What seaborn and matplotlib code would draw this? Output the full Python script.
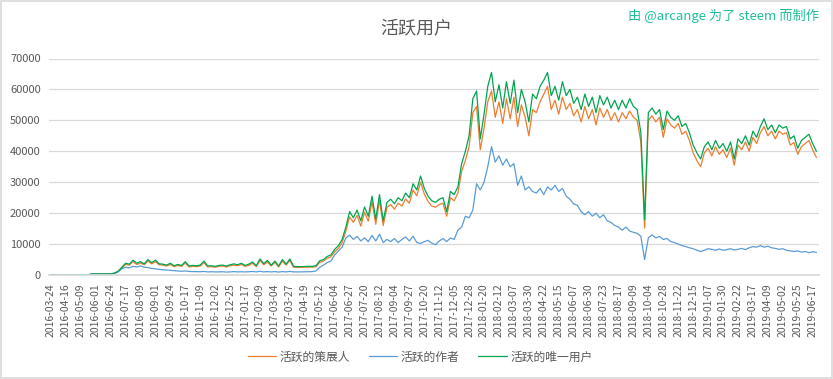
import numpy as np
import pandas as pd
import seaborn as sns
import matplotlib.pyplot as plt
from matplotlib.patches import Rectangle

# x tick labels, one every 4 samples (samples are ~5.75 days apart)
tick_labels = [
    '2016-03-24', '2016-04-16', '2016-05-09', '2016-06-01', '2016-06-24', '2016-07-17',
    '2016-08-09', '2016-09-01', '2016-09-24', '2016-10-17', '2016-11-09', '2016-12-02',
    '2016-12-25', '2017-01-17', '2017-02-09', '2017-03-04', '2017-03-27', '2017-04-19',
    '2017-05-12', '2017-06-04', '2017-06-27', '2017-07-20', '2017-08-12', '2017-09-04',
    '2017-09-27', '2017-10-20', '2017-11-12', '2017-12-05', '2017-12-28', '2018-01-20',
    '2018-02-12', '2018-03-07', '2018-03-30', '2018-04-22', '2018-05-15', '2018-06-07',
    '2018-06-30', '2018-07-23', '2018-08-17', '2018-09-09', '2018-10-04', '2018-10-28',
    '2018-11-22', '2018-12-15', '2019-01-07', '2019-01-30', '2019-02-22', '2019-03-17',
    '2019-04-09', '2019-05-02', '2019-05-25', '2019-06-17',
]

# 活跃的策展人 (active curators)
curators = [
    70, 70, 70, 70, 70, 70, 70, 70, 70, 70,
    70, 330, 330, 330, 330, 330, 330, 550, 1100, 2300,
    3400, 3200, 4300, 3400, 3900, 3300, 4500, 3600, 4300, 3300,
    3200, 2900, 3400, 2700, 3100, 2800, 3900, 2600, 2800, 2700,
    2900, 4000, 2600, 2700, 2500, 2800, 2900, 2600, 3000, 3200,
    3000, 3400, 2800, 3100, 3800, 2700, 4700, 3300, 4200, 2900,
    4100, 2600, 4500, 3200, 4700, 2500, 2450, 2450, 2500, 2550,
    2550, 2700, 4100, 4500, 5400, 5900, 7500, 8600, 10500, 14200,
    18800, 17000, 19300, 15800, 20300, 17400, 23700, 16400, 24200, 16000,
    21800, 22800, 21300, 23200, 22300, 24600, 23200, 27500, 25600, 30000,
    26200, 23800, 22300, 21900, 22800, 23200, 19000, 25000, 24000, 26500,
    33500, 37000, 41500, 52500, 54500, 40500, 47500, 56000, 59500, 51000,
    56000, 49000, 57000, 50500, 57500, 48000, 55000, 51000, 45000, 53500,
    52500, 56000, 58500, 61000, 53500, 56500, 52000, 57500, 53500, 55500,
    51500, 53500, 49500, 54500, 50500, 53500, 48500, 54000, 51000, 53500,
    50000, 52500, 49500, 52500, 50500, 53000, 51000, 50000, 43000, 15200,
    50000, 51500, 49500, 51000, 44500, 50500, 48500, 47500, 49000, 45500,
    46500, 43500, 39500, 37000, 35000, 39500, 41000, 38500, 41500, 39000,
    40500, 38000, 41000, 35500, 42000, 40500, 43000, 40000, 44500, 42500,
    46000, 48000, 45000, 46500, 44000, 46500, 45500, 46000, 42000, 42800,
    39000, 41500, 42500, 43500, 40500, 38000,
]

# 活跃的作者 (active authors)
authors = [
    60, 60, 60, 60, 60, 60, 60, 60, 60, 60,
    60, 300, 300, 300, 300, 300, 300, 500, 1000, 2000,
    2500, 2300, 2800, 2600, 2900, 2500, 2400, 2100, 2000, 1800,
    1700, 1600, 1500, 1400, 1300, 1200, 1300, 1150, 1100, 1100,
    1050, 1150, 1000, 1050, 1000, 1000, 1050, 950, 1000, 1100,
    1000, 1050, 1000, 1050, 1150, 1000, 1200, 1000, 1100, 1000,
    1100, 950, 1100, 1000, 1150, 1000, 1000, 1000, 1050, 1050,
    1100, 1300, 2500, 3200, 4000, 4500, 6500, 7800, 9000, 12000,
    12900, 11500, 12500, 11000, 12000, 10800, 12800, 11000, 13200, 10500,
    11500, 10800, 11800, 10500, 11500, 12300, 11000, 12500, 10500, 10200,
    10800, 11200, 10300, 9800, 11000, 11800, 10800, 12000, 11500, 14500,
    15500, 19000, 18500, 21000, 29500, 27500, 30000, 35000, 41500, 36500,
    38500, 35500, 37500, 35000, 36000, 29000, 32000, 27500, 28500, 27000,
    26500, 28000, 26000, 28500, 27500, 29000, 27000, 28000, 25500, 24500,
    23000, 22500, 20500, 19500, 20500, 19000, 20000, 18500, 19500, 17500,
    17000, 16000, 15500, 14500, 15500, 14200, 13800, 13500, 12500, 5000,
    12000, 13000, 12000, 12500, 11500, 11800, 10800, 10500, 10000, 9500,
    9200, 8800, 8500, 8000, 7600, 8000, 8500, 8300, 8000, 8400,
    8000, 8200, 8500, 8100, 8300, 8600, 8200, 8800, 9200, 9000,
    9500, 9000, 9300, 8800, 8600, 8300, 8500, 8000, 7800, 7600,
    7800, 7400, 7600, 7200, 7500, 7300,
]

# 活跃的唯一用户 (active unique users)
unique_users = [
    80, 80, 80, 80, 80, 80, 80, 80, 80, 80,
    80, 350, 350, 350, 350, 350, 350, 600, 1200, 2500,
    3800, 3500, 4800, 3800, 4300, 3600, 5000, 4000, 4800, 3600,
    3500, 3200, 3800, 3000, 3400, 3100, 4300, 2900, 3100, 3000,
    3200, 4500, 2900, 3000, 2800, 3100, 3200, 2900, 3300, 3600,
    3300, 3800, 3100, 3500, 4200, 3000, 5200, 3700, 4700, 3200,
    4500, 2900, 5000, 3500, 5200, 2800, 2700, 2700, 2750, 2800,
    2800, 3000, 4600, 5000, 6000, 6500, 8300, 9500, 11500, 15500,
    20500, 18500, 21000, 17500, 22000, 19000, 25500, 18000, 26000, 17500,
    23500, 24500, 23000, 25000, 24000, 26500, 25000, 29500, 27500, 32000,
    28000, 25500, 24000, 23500, 24500, 25000, 20500, 27000, 26000, 28500,
    36000, 40000, 45000, 57000, 59500, 44000, 52000, 61000, 65500, 56000,
    61500, 54000, 62500, 55500, 63000, 52500, 60000, 56000, 49500, 58500,
    57000, 61000, 63000, 65500, 58000, 61000, 56500, 62500, 58000, 60000,
    55500, 57500, 53500, 58500, 54500, 57500, 52500, 58000, 55000, 57500,
    54000, 56500, 53500, 56500, 54000, 57000, 54500, 53500, 46000, 17800,
    52500, 54000, 52000, 53500, 47000, 53000, 51000, 50000, 51500, 48000,
    49000, 46000, 42000, 39500, 37500, 41500, 43000, 40500, 43500, 41000,
    42500, 40000, 43000, 37500, 44000, 42500, 45000, 42000, 46500, 44500,
    48000, 50500, 47000, 48500, 46000, 48500, 47500, 48000, 44000, 45000,
    41000, 43500, 44500, 45500, 42500, 40000,
]

series_names = ['活跃的策展人', '活跃的作者', '活跃的唯一用户']
colors = ['#ED7D31', '#5B9BD5', '#00A550']

sns.set_theme(style='white')
plt.rcParams['font.family'] = ['Noto Sans CJK SC', 'DejaVu Sans']

frames = []
for name, vals in zip(series_names, [curators, authors, unique_users]):
    frames.append(pd.DataFrame({'idx': np.arange(len(vals)), 'users': vals, 'series': name}))
df = pd.concat(frames, ignore_index=True)

fig = plt.figure(figsize=(8.33, 3.79), dpi=100)
ax = fig.add_axes([49 / 833, 1 - 275 / 379, 770 / 833, (275 - 58.5) / 379])

sns.lineplot(data=df, x='idx', y='users', hue='series', hue_order=series_names,
             palette=colors, linewidth=0.9, ax=ax)

ax.set_xlim(-0.5, 205.7)
ax.set_ylim(0, 70000)
ax.set_yticks(range(0, 70001, 10000))
ax.set_yticklabels([str(v) for v in range(0, 70001, 10000)])
ax.set_xticks(range(0, 4 * len(tick_labels), 4))
ax.set_xticklabels(tick_labels, rotation=90)
ax.set_xlabel('')
ax.set_ylabel('')
ax.tick_params(axis='x', length=0, pad=6, labelsize=7.5, labelcolor='#595959')
ax.tick_params(axis='y', length=0, pad=6, labelsize=8, labelcolor='#595959')
ax.yaxis.grid(True, color='#D9D9D9', linewidth=0.9)
ax.xaxis.grid(False)
for side in ['top', 'right', 'left']:
    ax.spines[side].set_visible(False)
ax.spines['bottom'].set_color('#D9D9D9')

sns.move_legend(ax, 'center', bbox_to_anchor=(420 / 833, 1 - 357 / 379),
                bbox_transform=fig.transFigure, ncol=3, frameon=False, title=None,
                fontsize=8.5, handlelength=2.4, columnspacing=1.6, handletextpad=0.3)
for txt in ax.get_legend().get_texts():
    txt.set_color('#595959')

fig.text(416 / 833, 1 - 28 / 379, '活跃用户', ha='center', va='center',
         fontsize=13, color='#595959')
fig.text(819 / 833, 1 - 16 / 379, '由 @arcange 为了 steem 而制作', ha='right', va='center',
         fontsize=9.5, color='#1DBF9B')

fig.patches.append(Rectangle((0.001, 0.002), 0.998, 0.996, transform=fig.transFigure,
                             fill=False, edgecolor='#D9D9D9', linewidth=1.2))

fig.savefig('out.png', dpi=100)
